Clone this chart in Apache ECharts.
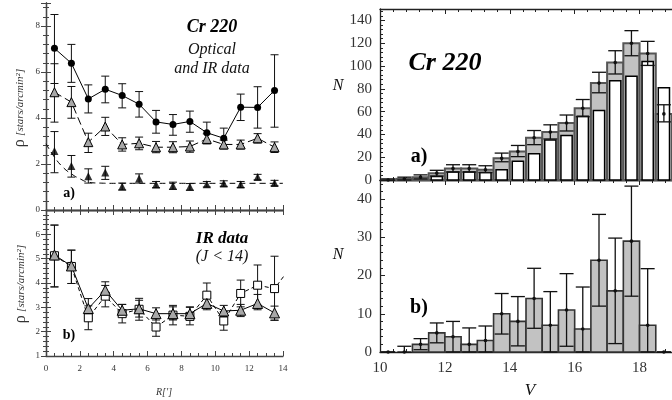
<!DOCTYPE html>
<html><head><meta charset="utf-8">
<script src="https://cdn.jsdelivr.net/npm/echarts@6/dist/echarts.min.js"></script>
<style>html,body{margin:0;padding:0;background:#fff;overflow:hidden}#c{width:672px;height:400px}</style>
</head><body><div id="c"></div>
<script>
// ---------- Left panel a): radial density profiles ----------
const R = [0.5,1.5,2.5,3.5,4.5,5.5,6.5,7.5,8.5,9.5,10.5,11.5,12.5,13.5];
const rhoOptIR   = [7.03,6.38,4.83,5.25,4.98,4.60,3.83,3.72,3.85,3.36,3.12,4.47,4.46,5.20];
const rhoOptIRLo = [5.50,5.55,4.22,4.66,4.44,4.04,3.34,3.25,3.38,2.88,2.73,3.89,3.56,3.60];
const rhoOptIRHi = [8.50,7.20,5.44,5.82,5.49,5.15,4.33,4.15,4.30,3.82,3.56,5.04,5.36,6.75];
const rhoOpen    = [5.12,4.69,2.95,3.63,2.85,2.90,2.73,2.73,2.76,3.09,2.85,2.85,3.12,2.73];
const rhoOpenLo  = [3.82,3.99,2.50,3.24,2.56,2.62,2.49,2.49,2.51,2.88,2.65,2.65,2.91,2.50];
const rhoOpenHi  = [6.36,5.37,3.34,4.03,3.14,3.17,2.98,2.97,3.00,3.31,3.04,3.04,3.32,2.96];
const rhoFill    = [2.56,1.91,1.47,1.63,1.02,1.37,1.11,1.05,1.01,1.12,1.15,1.11,1.43,1.17];
const rhoFillLo  = [1.62,1.43,1.17,1.33,0.87,1.17,0.97,0.90,0.86,1.00,1.03,0.98,1.31,1.05];
const rhoFillHi  = [3.41,2.37,1.79,1.90,1.17,1.57,1.24,1.21,1.15,1.24,1.27,1.24,1.55,1.29];
const bgR   = [0,0.5,1.0,1.5,2.0,2.5,3.2,4,6,8,10,12,14];
const bgRho = [2.88,2.30,1.86,1.57,1.36,1.21,1.17,1.16,1.16,1.16,1.16,1.16,1.16];

// ---------- Left panel b): IR data (J<14) ----------
const R_b = [0.5,1.5,2.5,3.5,4.5,5.5,6.5,7.5,8.5,9.5,10.5,11.5,12.5,13.5];
const irTri   = [5.15,4.70,2.95,3.70,2.88,2.94,2.74,2.74,2.74,3.16,2.85,2.88,3.16,2.77];
const irTriLo = [3.84,3.98,2.55,3.36,2.62,2.60,2.48,2.48,2.48,2.90,2.62,2.62,2.90,2.47];
const irTriHi = [6.38,5.35,3.36,4.05,3.12,3.29,2.98,3.02,3.02,3.40,3.08,3.12,3.53,3.05];
const R_sq   = [0.5,1.5,2.5,3.5,4.5,5.5,6.5,7.5,8.5,9.5,10.5,11.5,12.5,13.5,14.5];
const irSq   = [5.12,4.68,2.57,3.46,2.74,2.92,2.19,2.68,2.63,3.50,2.44,3.57,3.91,3.77,4.70];
const irSqLo = [3.84,3.98,2.08,3.02,2.36,2.47,1.81,2.28,2.28,2.99,2.06,3.02,3.09,2.47];
const irSqHi = [6.38,5.35,3.06,3.90,3.12,3.37,2.57,3.08,3.00,4.00,2.82,4.12,4.74,5.10];

// ---------- Right panel: V luminosity functions ----------
const V = [10.25,10.75,11.25,11.75,12.25,12.75,13.25,13.75,14.25,14.75,15.25,15.75,16.25,16.75,17.25,17.75,18.25,18.75];
const nTotal   = [0,1,2.5,6,10,10,9,19,25,37,42,50,63,85,103,120,111,58];
const nTotalLo = [0,0,1,3.5,7,7,6.5,16,20.5,31,36,43,55.5,76.5,93,109,100.5,51];
const nTotalHi = [1,2.5,4.5,8.5,13.4,13.4,12.5,23.6,30.3,43.4,48.4,57,70.6,94.5,113.4,131,121.6,66];
const nOptical = [0,0,0,3,7,7,6.5,9,16.5,23,35,39,56,61,87,91,104,81];
const nB   = [0,0,2,5,4,2,3,10,8,14,7,11,6,24,16,29,7,0];
const nBLo = [0,0,0.6,2.4,0,0,0,4.7,1.6,6.2,0,1.5,0,12,2.2,14.6,0,0];
const nBHi = [0,1.5,3.5,7.6,8,6.3,6.8,15.3,14.5,21.9,15.8,20.5,17,36,29.8,43.4,21.8,0];

const zip = (...a) => a[0].map((_, i) => a.map(x => x[i]));
const SERIF = 'Liberation Serif';

function errItem(capHalf, dotR, color, lw) {
  return function (params, api) {
    const x = api.value(0), y = api.value(1), lo = api.value(2), hi = api.value(3);
    const pHi = api.coord([x, hi]), pLo = api.coord([x, lo]), p = api.coord([x, y]);
    const st = {stroke: color, lineWidth: lw};
    const ch = [
      {type:'line', shape:{x1:pHi[0], y1:pHi[1], x2:pLo[0], y2:pLo[1]}, style:st},
      {type:'line', shape:{x1:pHi[0]-capHalf, y1:pHi[1], x2:pHi[0]+capHalf, y2:pHi[1]}, style:st},
      {type:'line', shape:{x1:pLo[0]-capHalf, y1:pLo[1], x2:pLo[0]+capHalf, y2:pLo[1]}, style:st}
    ];
    if (dotR) ch.push({type:'circle', shape:{cx:p[0], cy:p[1], r:dotR}, style:{fill:color}});
    return {type:'group', children: ch};
  };
}
const halfBin = (V[1] - V[0]) / 2;
function barItem(fill, stroke, lw, inset) {
  return function (params, api) {
    const x = api.value(0), y = api.value(1);
    if (!y) return null;
    const p0 = api.coord([x - halfBin, y]), p1 = api.coord([x + halfBin, 0]);
    return {type:'rect', shape:{x:p0[0]+inset, y:p0[1], width:p1[0]-p0[0]-2*inset, height:p1[1]-p0[1]},
            style:{fill:fill, stroke:stroke, lineWidth:lw}};
  };
}

function ax(grid, min, max, interval, pos, labels, minorSplit, fs, col, margin, showMax) {
  return {type:'value', gridIndex:grid, min:min, max:max, interval:interval, position:pos,
    axisLine:{lineStyle:{color:col, width:1.3}}, splitLine:{show:false},
    axisTick:{inside:true, length:5, lineStyle:{color:col}},
    minorTick:{show:true, splitNumber:minorSplit, length:3, lineStyle:{color:col}},
    axisLabel:{show:labels, fontFamily:SERIF, fontSize:fs, color:'#333', margin:margin, showMaxLabel:!!showMax}};
}

const chart = echarts.init(document.getElementById('c'), null, {renderer:'canvas'});
const LC = '#444', RC = '#222';
chart.setOption({
  backgroundColor:'#fff',
  animation:false,
  grid:[
    {left:46, top:3, width:237, height:207},
    {left:46, top:210, width:237, height:146},
    {left:380, top:9, width:300, height:171},
    {left:380, top:180, width:300, height:172}
  ],
  xAxis:[
    ax(0,0,14,2,'bottom',false,4,9,LC,7),
    ax(0,0,14,2,'top',false,4,9,LC,7),
    ax(1,0,14,2,'bottom',true,4,9,LC,8,true),
    ax(1,0,14,2,'top',false,4,9,LC,8),
    ax(2,10,19,2,'bottom',false,5,15,RC,9),
    ax(2,10,19,2,'top',false,5,15,RC,9),
    ax(3,10,19,2,'bottom',true,5,15,RC,9),
    ax(3,10,19,2,'top',false,5,15,RC,9)
  ],
  yAxis:[
    ax(0,0,9,2,'left',true,5,9,LC,6),
    ax(0,0,9,2,'right',false,5,9,LC,6),
    ax(1,1,7,1,'left',true,5,9,LC,6),
    ax(1,1,7,1,'right',false,5,9,LC,6),
    ax(2,0,150,20,'left',true,5,15,RC,8),
    ax(3,0,45,10,'left',true,5,15,RC,8)
  ],
  series:[
    // left a
    {type:'line', smooth:true, xAxisIndex:0, yAxisIndex:0, showSymbol:false, data:zip(bgR,bgRho),
     lineStyle:{color:'#000', width:1, type:[6,4]}, z:2},
    {type:'custom', xAxisIndex:0, yAxisIndex:0, renderItem:errItem(4,0,'#111',1), data:zip(R,rhoOptIR,rhoOptIRLo,rhoOptIRHi), z:3},
    {type:'custom', xAxisIndex:0, yAxisIndex:0, renderItem:errItem(4,0,'#111',1), data:zip(R,rhoOpen,rhoOpenLo,rhoOpenHi), z:3},
    {type:'custom', xAxisIndex:0, yAxisIndex:0, renderItem:errItem(4,0,'#111',1), data:zip(R,rhoFill,rhoFillLo,rhoFillHi), z:3},
    {type:'line', xAxisIndex:0, yAxisIndex:0, data:zip(R,rhoOptIR), symbol:'circle', symbolSize:7,
     itemStyle:{color:'#000'}, lineStyle:{color:'#000', width:1}, z:4},
    {type:'line', xAxisIndex:0, yAxisIndex:0, data:zip(R,rhoOpen), symbol:'triangle', symbolSize:9,
     itemStyle:{color:'#a8a8a8', borderColor:'#000', borderWidth:1}, lineStyle:{color:'#000', width:1, type:[8,4]}, z:4},
    {type:'scatter', xAxisIndex:0, yAxisIndex:0, data:zip(R,rhoFill), symbol:'triangle', symbolSize:8,
     itemStyle:{color:'#000'}, z:4},
    // left b
    {type:'custom', xAxisIndex:2, yAxisIndex:2, renderItem:errItem(4,0,'#111',1), data:zip(R_sq.slice(0,14),irSq.slice(0,14),irSqLo,irSqHi), z:3},
    {type:'custom', xAxisIndex:2, yAxisIndex:2, renderItem:errItem(4,0,'#111',1), data:zip(R_b,irTri,irTriLo,irTriHi), z:3},
    {type:'line', xAxisIndex:2, yAxisIndex:2, data:zip(R_sq,irSq), symbol:'rect', symbolSize:8,
     itemStyle:{color:'#fff', borderColor:'#000', borderWidth:1}, lineStyle:{color:'#000', width:1, type:[4,3]}, z:4},
    {type:'line', xAxisIndex:2, yAxisIndex:2, data:zip(R_b,irTri), symbol:'triangle', symbolSize:10,
     itemStyle:{color:'#a8a8a8', borderColor:'#000', borderWidth:1}, lineStyle:{color:'#000', width:1}, z:5},
    // right a
    {type:'custom', xAxisIndex:4, yAxisIndex:4, renderItem:barItem('#c2c2c2','#555',2,0), data:zip(V,nTotal), z:2},
    {type:'custom', xAxisIndex:4, yAxisIndex:4, renderItem:barItem('#fff','#000',1.5,2.5), data:zip(V,nOptical), z:3},
    {type:'custom', xAxisIndex:4, yAxisIndex:4, renderItem:errItem(7,1.8,'#111',1.3), data:zip(V,nTotal,nTotalLo,nTotalHi), z:4},
    // right b
    {type:'custom', xAxisIndex:6, yAxisIndex:5, renderItem:barItem('#c2c2c2','#333',1.6,0), data:zip(V,nB), z:2},
    {type:'custom', xAxisIndex:6, yAxisIndex:5, renderItem:errItem(7,1.8,'#111',1.3), data:zip(V,nB,nBLo,nBHi), z:4}
  ],
  graphic:[
    {type:'text', x:212, y:27, style:{text:'Cr 220', font:'bold italic 18px "Liberation Serif"', fill:'#000', align:'center', verticalAlign:'middle'}},
    {type:'text', x:212, y:50, style:{text:'Optical', font:'italic 16px "Liberation Serif"', fill:'#111', align:'center', verticalAlign:'middle'}},
    {type:'text', x:212, y:69, style:{text:'and IR data', font:'italic 16px "Liberation Serif"', fill:'#111', align:'center', verticalAlign:'middle'}},
    {type:'text', x:69, y:193, style:{text:'a)', font:'bold 14px "Liberation Serif"', fill:'#000', align:'center', verticalAlign:'middle'}},
    {type:'text', x:222, y:239, style:{text:'IR data', font:'bold italic 17px "Liberation Serif"', fill:'#000', align:'center', verticalAlign:'middle'}},
    {type:'text', x:222, y:257, style:{text:'(J < 14)', font:'italic 16px "Liberation Serif"', fill:'#111', align:'center', verticalAlign:'middle'}},
    {type:'text', x:69, y:335, style:{text:'b)', font:'bold 14px "Liberation Serif"', fill:'#000', align:'center', verticalAlign:'middle'}},
    {type:'text', x:20, y:108, rotation:Math.PI/2, style:{text:'{r|ρ} {t|[stars/arcmin²]}', align:'center', verticalAlign:'middle',
      rich:{r:{font:'16px "Liberation Serif"', fill:'#333'}, t:{font:'italic 11px "Liberation Serif"', fill:'#333'}}}},
    {type:'text', x:21, y:284, rotation:Math.PI/2, style:{text:'{r|ρ} {t|[stars/arcmin²]}', align:'center', verticalAlign:'middle',
      rich:{r:{font:'16px "Liberation Serif"', fill:'#333'}, t:{font:'italic 11px "Liberation Serif"', fill:'#333'}}}},
    {type:'text', x:164, y:392, style:{text:'R[′]', font:'italic 10px "Liberation Serif"', fill:'#333', align:'center', verticalAlign:'middle'}},
    {type:'text', x:445, y:63, style:{text:'Cr 220', font:'bold italic 26px "Liberation Serif"', fill:'#000', align:'center', verticalAlign:'middle'}},
    {type:'text', x:419, y:157, style:{text:'a)', font:'bold 20px "Liberation Serif"', fill:'#000', align:'center', verticalAlign:'middle'}},
    {type:'text', x:419, y:308, style:{text:'b)', font:'bold 20px "Liberation Serif"', fill:'#000', align:'center', verticalAlign:'middle'}},
    {type:'text', x:338, y:86, style:{text:'N', font:'italic 16px "Liberation Serif"', fill:'#111', align:'center', verticalAlign:'middle'}},
    {type:'text', x:338, y:255, style:{text:'N', font:'italic 16px "Liberation Serif"', fill:'#111', align:'center', verticalAlign:'middle'}},
    {type:'text', x:530, y:391, style:{text:'V', font:'italic 17px "Liberation Serif"', fill:'#111', align:'center', verticalAlign:'middle'}}
  ]
});
</script></body></html>
